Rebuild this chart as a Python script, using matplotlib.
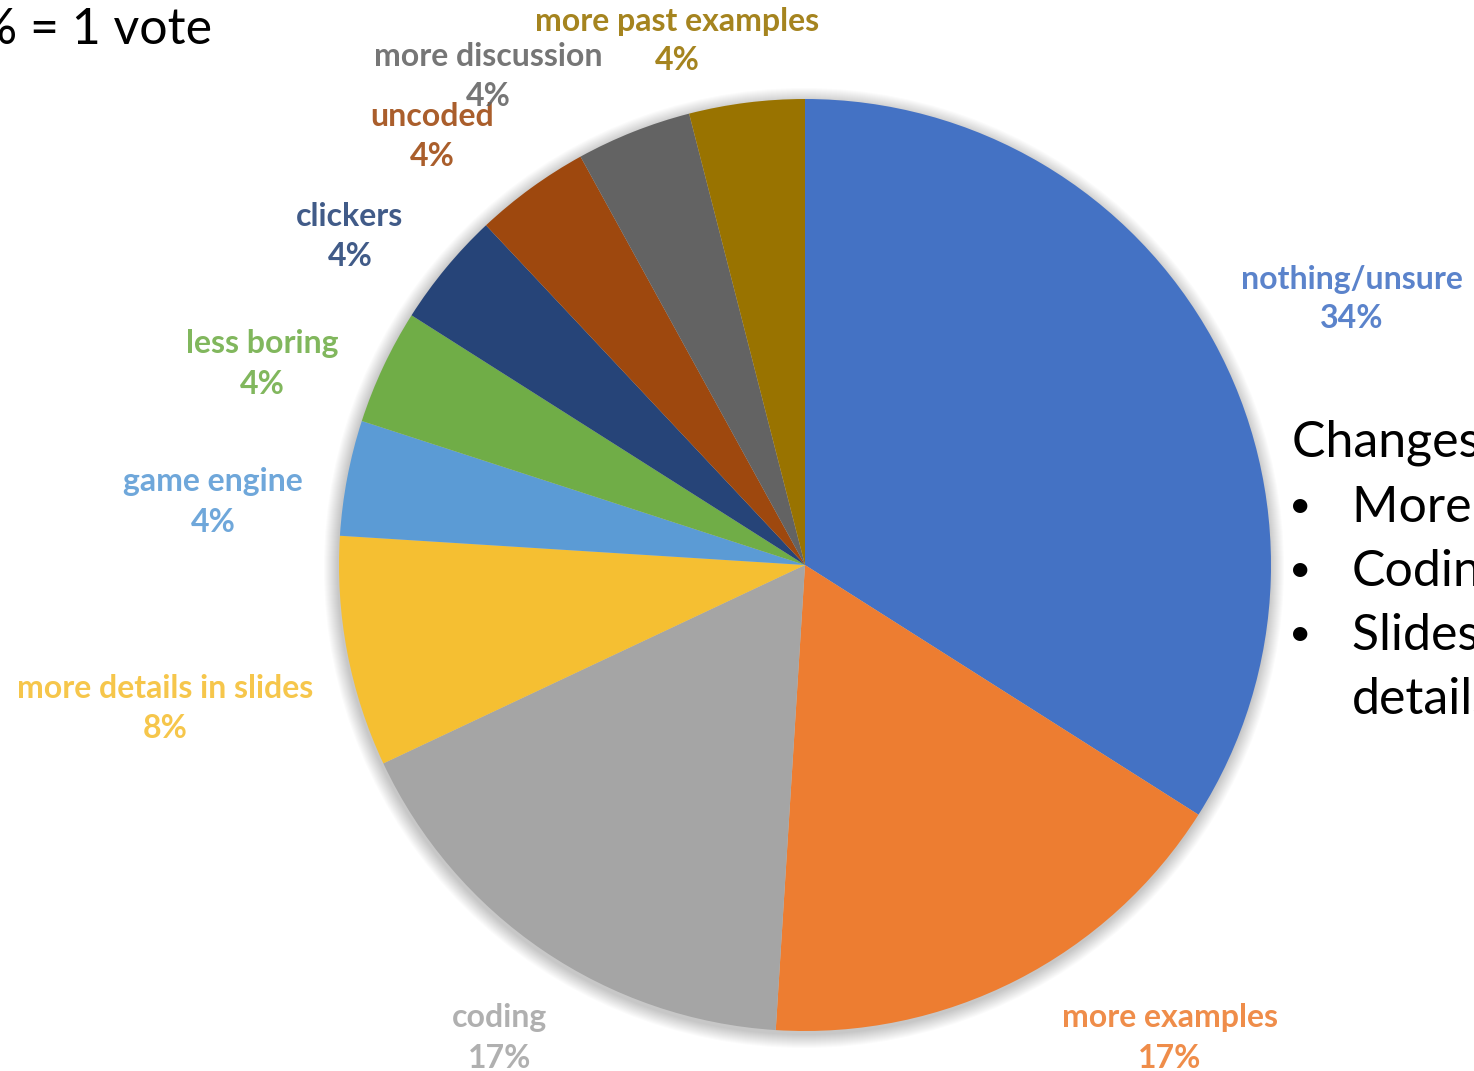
import matplotlib
matplotlib.use("Agg")
import matplotlib.pyplot as plt
from matplotlib.patches import Circle

# Survey responses: what should change in the course
categories = ["nothing/unsure", "more examples", "coding", "more details in slides",
              "game engine", "less boring", "clickers", "uncoded",
              "more discussion", "more past examples"]
shares = [34, 17, 17, 8, 4, 4, 4, 4, 4, 4]
pct_labels = ["34%", "17%", "17%", "8%", "4%", "4%", "4%", "4%", "4%", "4%"]

colors = ["#4472C4", "#ED7D31", "#A5A5A5", "#F5BF32", "#5B9BD5",
          "#70AD47", "#264478", "#9E480E", "#636363", "#997300"]

# label anchor points (figure pixels, y measured from top)
label_xy = [(1352, 279), (1170, 1018), (500, 1018), (165, 688), (213, 482),
            (262, 344), (350, 217), (432, 117), (488, 56), (677, 21)]

W, H = 1474, 1071
fig = plt.figure(figsize=(W / 100, H / 100), dpi=100)
ax = fig.add_axes([0, 0, 1, 1])

cx, cy, r = 805, H - 565, 466

# soft shadow behind the pie
for i in range(14):
    ax.add_patch(Circle((cx - 1, cy - 3), r + 14 - i, color="black",
                        alpha=0.014, lw=0, zorder=0))

ax.pie(shares, colors=colors, startangle=90, counterclock=False,
       center=(cx, cy), radius=r, frame=True,
       wedgeprops=dict(linewidth=0))
ax.set_xlim(0, W)
ax.set_ylim(0, H)
ax.axis("off")

font = ["Lato", "DejaVu Sans"]
for name, pct, col, (lx, ly) in zip(categories, pct_labels, colors, label_xy):
    ax.text(lx, H - ly, name, color=col, fontsize=23, fontweight="bold",
            family=font, ha="center", va="center", alpha=0.88)
    ax.text(lx, H - ly - 40, pct, color=col, fontsize=23, fontweight="bold",
            family=font, ha="center", va="center", alpha=0.88)

# slide annotations around the chart
side_font = ["Lato", "DejaVu Sans"]
ax.text(212, H - 30, "4% = 1 vote", fontsize=36, family=side_font,
        ha="right", va="center", color="black")

ax.text(1292, H - 443, "Changes requested:", fontsize=36, family=side_font,
        ha="left", va="center", color="black")
bullets = ["More examples", "Coding", "Slides with more", "details"]
for i, b in enumerate(bullets):
    y = H - (508 + 64 * i)
    if i < 3:
        ax.text(1300, y + 2, "\u2022", fontsize=28, family=side_font,
                ha="center", va="center", color="black")
    ax.text(1352, y, b, fontsize=36, family=side_font,
            ha="left", va="center", color="black")

fig.savefig("out.png", dpi=100)
